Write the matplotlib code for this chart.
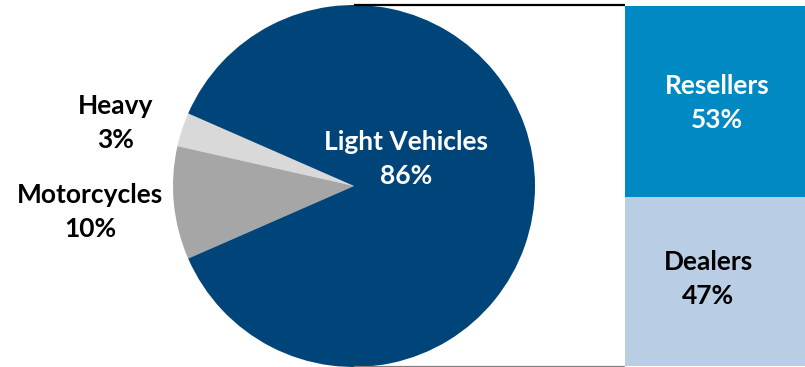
import matplotlib.pyplot as plt

# pie data (ordered counter-clockwise from the small slices)
pie_labels = ["Heavy", "Motorcycles", "Light Vehicles"]
pie_values = [3, 10, 86]
pie_colors = ["#D9D9D9", "#A6A6A6", "#00457A"]

# stacked bar data (top to bottom)
bar_labels = ["Resellers", "Dealers"]
bar_values = [53, 47]
bar_colors = ["#0089C3", "#B9CDE5"]

plt.rcParams['font.family'] = ['Lato', 'DejaVu Sans']

W, H = 805, 367
fig = plt.figure(figsize=(W / 100, H / 100), dpi=100)
ax = fig.add_axes([0, 0, 1, 1])

# pie, small slices centred on the left side
cx, cy, r = 354, 181, 181
total = sum(pie_values)
small = (pie_values[0] + pie_values[1]) / total * 360
ax.pie(pie_values, colors=pie_colors, startangle=180 - small / 2,
       center=(cx, cy), radius=r, counterclock=True,
       wedgeprops=dict(linewidth=0))

# stacked bar on the right
bx0, bx1 = 625, 805
btop, bbot = 361, 1
scale = (btop - bbot) / sum(bar_values)
y = btop
for val, col in zip(bar_values, bar_colors):
    ax.bar((bx0 + bx1) / 2, val * scale, width=bx1 - bx0, bottom=y - val * scale,
           color=col, linewidth=0)
    y -= val * scale

# connector lines
ax.plot([cx, bx0], [cy + r, cy + r], color="black", lw=1.6, solid_capstyle="butt")
ax.plot([cx, bx0], [cy - r + 0.5, cy - r + 0.5], color="#7F7F7F", lw=1.6,
        solid_capstyle="butt")

fs = 19


def label(x, y, name, val, color):
    ax.text(x, H - y, f"{name}\n{val}%", color=color, ha="center", va="center",
            fontsize=fs, fontweight="bold", linespacing=1.5)


label(406, 159, pie_labels[2], pie_values[2], "white")
label(116, 123, pie_labels[0], pie_values[0], "black")
label(90, 212, pie_labels[1], pie_values[1], "black")
label(717, 103, bar_labels[0], bar_values[0], "white")
label(708, 279, bar_labels[1], bar_values[1], "black")

ax.set_xlim(0, W)
ax.set_ylim(0, H)
ax.set_aspect("auto")
ax.axis("off")

fig.savefig("out.png", dpi=100)
